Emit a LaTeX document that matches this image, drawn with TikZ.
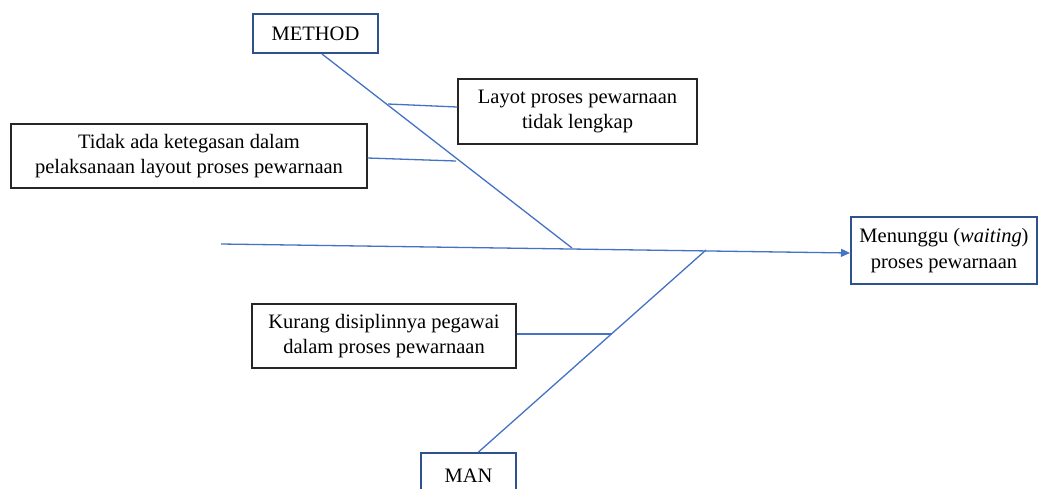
\documentclass[tikz,border=0pt]{standalone}
\usepackage{fontspec}
\setmainfont{Liberation Serif}
\usetikzlibrary{arrows.meta}
\definecolor{bone}{HTML}{4472C4}
\definecolor{frameblue}{HTML}{2F528F}
\begin{document}
\begin{tikzpicture}[x=1pt,y=-1pt,
  txt/.style={font=\fontsize{20.5}{25.5}\selectfont, align=center, inner sep=0pt, fill=white},
  catbox/.style={txt, draw=frameblue, line width=2pt},
  causebox/.style={txt, draw=black!85, line width=1.3pt},
  bone/.style={draw=bone, line width=1.3pt}]
\clip (0,0) rectangle (1039,488);
\fill[white] (0,0) rectangle (1039,488);

% spine of the fishbone
\coordinate (tail) at (221,244);
\node[catbox, minimum width=186, minimum height=67] (effect) at (944,250.5) {Menunggu (\textit{waiting})\\proses pewarnaan};
\draw[bone, -{Triangle[length=9,width=8]}] (tail) -- ([yshift=-2.5]effect.west);

% joints on the spine
\coordinate (jm) at (572,248);
\coordinate (jn) at (706,250);

% METHOD branch
\node[catbox, minimum width=125, minimum height=39] (method) at (315.5,33.5) {METHOD};
\draw[bone] ([xshift=6.5]method.south) -- (jm);
\coordinate (m1) at (388,104);
\coordinate (m2) at (456,161);
\node[causebox, minimum width=239, minimum height=65] (layot) at (577.5,111.5) {Layot proses pewarnaan\\tidak lengkap};
\node[causebox, minimum width=356, minimum height=64] (tidak) at (189,156) {Tidak ada ketegasan dalam\\pelaksanaan layout proses pewarnaan};
\draw[bone] (m1) -- ([yshift=4.5]layot.west);
\draw[bone] ([yshift=-2]tidak.east) -- (m2);

% MAN branch
\node[catbox, minimum width=95, minimum height=46] (man) at (468.5,476) {MAN};
\draw[bone] ([xshift=10]man.north) -- (jn);
\coordinate (n1) at (612,334);
\node[causebox, minimum width=264, minimum height=64] (kurang) at (384,336) {Kurang disiplinnya pegawai\\dalam proses pewarnaan};
\draw[bone] ([yshift=2]kurang.east) -- (n1);
\end{tikzpicture}
\end{document}
